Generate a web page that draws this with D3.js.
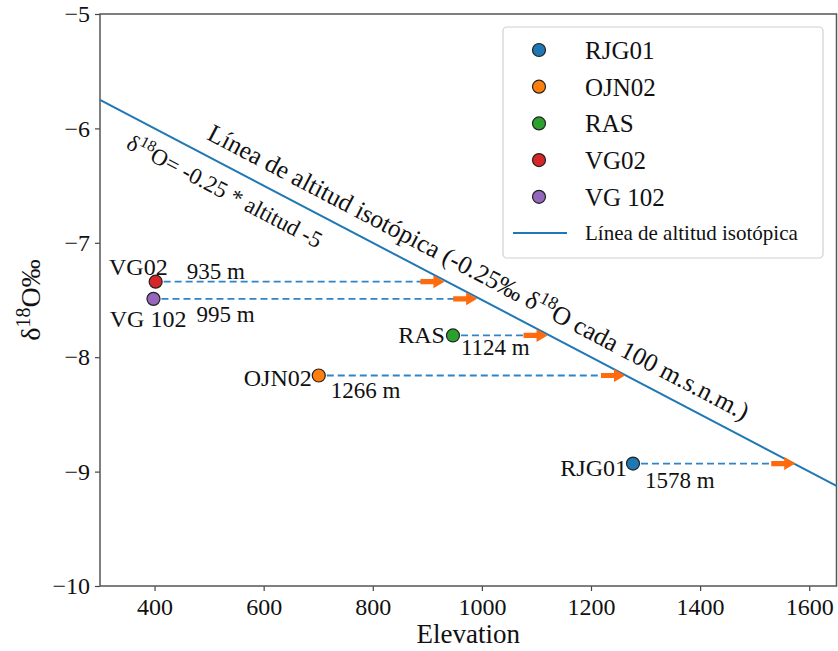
<!DOCTYPE html>
<html>
<head>
<meta charset="utf-8">
<script src="https://cdn.jsdelivr.net/npm/d3@7"></script>
<style>
  body { margin: 0; background: #fff; }
  svg text { font-family: "Liberation Serif", "Times New Roman", serif; fill: #111; }
</style>
</head>
<body>
<svg id="chart" width="838" height="651"></svg>
<script>
// station data
var stations = ["RJG01", "OJN02", "RAS", "VG02", "VG 102"];
var elevation = [1277, 701, 947, 402, 398];
var d18O = [-8.93, -8.16, -7.81, -7.34, -7.49];
var isoAltitude = [1578, 1266, 1124, 935, 995];
var colors = ["#1f77b4", "#ff7f0e", "#2ca02c", "#d62728", "#9467bd"];

// isotopic altitude line: d18O = -0.25 * altitud/100 - 5
var lineAlt = [300, 1650];
var lineSlope = -0.25 / 100;
var lineIntercept = -5;

var xTicks = [400, 600, 800, 1000, 1200, 1400, 1600];
var yTicks = [-10, -9, -8, -7, -6, -5];

var W = 838, H = 651;
var margin = {left: 100, right: 1.5, top: 14, bottom: 65};

var svg = d3.select("#chart");

var x = d3.scaleLinear().domain([300, 1650]).range([margin.left, W - margin.right]);
var y = d3.scaleLinear().domain([-10, -5]).range([H - margin.bottom, margin.top]);

var lineY = function(a){ return lineSlope * a + lineIntercept; };
var minus = function(v){ return String(v).replace("-", "\u2212"); };

// axes
var xAxis = svg.append("g")
  .attr("transform", "translate(0," + (H - margin.bottom) + ")")
  .call(d3.axisBottom(x).tickValues(xTicks).tickSize(5).tickPadding(6).tickFormat(d3.format("d")));
var yAxis = svg.append("g")
  .attr("transform", "translate(" + margin.left + ",0)")
  .call(d3.axisLeft(y).tickValues(yTicks).tickSize(5).tickPadding(5).tickFormat(minus));

[xAxis, yAxis].forEach(function(g){
  g.select(".domain").remove();
  g.selectAll("line").attr("stroke", "#444").attr("stroke-width", 1.2);
  g.selectAll("text").style("font-size", "24px").attr("fill", "#111");
});
xAxis.selectAll("text").attr("dy", "0.74em");

// frame
svg.append("rect")
  .attr("x", margin.left).attr("y", margin.top)
  .attr("width", W - margin.left - margin.right)
  .attr("height", H - margin.top - margin.bottom)
  .attr("fill", "none").attr("stroke", "#555").attr("stroke-width", 1.5);

// axis labels
svg.append("text")
  .attr("x", (margin.left + W - margin.right) / 2).attr("y", 643)
  .attr("text-anchor", "middle").style("font-size", "27px")
  .text("Elevation");

var yl = svg.append("text")
  .attr("transform", "translate(40," + y(-7.5) + ") rotate(-90)")
  .attr("text-anchor", "middle").style("font-size", "28px");
yl.append("tspan").text("\u03b4");
yl.append("tspan").attr("dy", -10).style("font-size", "20px").text("18");
yl.append("tspan").attr("dy", 10).text("O\u2030");

// isotopic altitude line
var plot = svg.append("g");
plot.append("line")
  .attr("x1", x(lineAlt[0])).attr("y1", y(lineY(lineAlt[0])))
  .attr("x2", x(lineAlt[1])).attr("y2", y(lineY(lineAlt[1])))
  .attr("stroke", "#1f77b4").attr("stroke-width", 2);

var angle = Math.atan2(y(lineY(lineAlt[1])) - y(lineY(lineAlt[0])),
                       x(lineAlt[1]) - x(lineAlt[0])) * 180 / Math.PI;

// rotated annotations along the line
var t1 = plot.append("text")
  .attr("transform", "translate(" + x(494) + "," + y(-6.09) + ") rotate(" + angle + ")")
  .style("font-size", "25.5px");
t1.append("tspan").text("L\u00ednea de altitud isot\u00f3pica (-0.25\u2030 \u03b4");
t1.append("tspan").attr("dy", -10).style("font-size", "18px").text("18");
t1.append("tspan").attr("dy", 10).text("O cada 100 m.s.n.m.)");

var t2 = plot.append("text")
  .attr("transform", "translate(" + x(346) + "," + y(-6.17) + ") rotate(" + angle + ")")
  .style("font-size", "23px");
t2.append("tspan").text("\u03b4");
t2.append("tspan").attr("dy", -9).style("font-size", "16px").text("18");
t2.append("tspan").attr("dy", 9).text("O= -0.25 * altitud -5");

// dashed guides and arrows
var arrowLen = 24, shaftW = 2.6, headW = 6.5, headL = 11;
var arrowPath = function(tx, ty){
  return "M" + (tx - arrowLen) + "," + (ty - shaftW) +
    "L" + (tx - headL) + "," + (ty - shaftW) +
    "L" + (tx - headL) + "," + (ty - headW) +
    "L" + tx + "," + ty +
    "L" + (tx - headL) + "," + (ty + headW) +
    "L" + (tx - headL) + "," + (ty + shaftW) +
    "L" + (tx - arrowLen) + "," + (ty + shaftW) + "Z";
};

stations.forEach(function(s, i){
  var px = x(elevation[i]), py = y(d18O[i]), tx = x(isoAltitude[i]) - 2;
  plot.append("line")
    .attr("x1", px + 8).attr("y1", py)
    .attr("x2", tx - arrowLen + 1).attr("y2", py)
    .attr("stroke", "#2f84c8").attr("stroke-width", 1.8)
    .attr("stroke-dasharray", "7,4");
  plot.append("path")
    .attr("d", arrowPath(tx, py))
    .attr("fill", "#ff6a0d");
});

// station labels: [name dx, name dy, anchor, alt dx, alt dy]
var labelPos = [
  [-6, 12, "end", 12, 24],
  [-7, 10, "end", 12, 22],
  [-8, 8, "end", 8, 20],
  [12, -7, "end", 31, -3],
  [33, 28, "end", 43, 23]
];

stations.forEach(function(s, i){
  var px = x(elevation[i]), py = y(d18O[i]), p = labelPos[i];
  plot.append("text")
    .attr("x", px + p[0]).attr("y", py + p[1])
    .attr("text-anchor", p[2]).style("font-size", "24px")
    .text(s);
  plot.append("text")
    .attr("x", px + p[3]).attr("y", py + p[4])
    .style("font-size", "23px")
    .text(isoAltitude[i] + " m");
});

// station markers
plot.selectAll("circle.st")
  .data(stations)
  .enter()
  .append("circle")
  .attr("class", "st")
  .attr("cx", function(d, i){ return x(elevation[i]); })
  .attr("cy", function(d, i){ return y(d18O[i]); })
  .attr("r", 6.5)
  .attr("fill", function(d, i){ return colors[i]; })
  .attr("stroke", "#222").attr("stroke-width", 1.2);

// legend
var lg = svg.append("g");
lg.append("rect")
  .attr("x", 503).attr("y", 27).attr("width", 320).attr("height", 231)
  .attr("rx", 4).attr("fill", "#fff").attr("fill-opacity", 0.85)
  .attr("stroke", "#d0d0d0").attr("stroke-width", 1.2);

stations.forEach(function(s, i){
  var ry = 50 + i * 36.7;
  lg.append("circle")
    .attr("cx", 539).attr("cy", ry).attr("r", 6.5)
    .attr("fill", colors[i]).attr("stroke", "#222").attr("stroke-width", 1.2);
  lg.append("text")
    .attr("x", 585).attr("y", ry + 9)
    .style("font-size", "25px")
    .text(s);
});
lg.append("line")
  .attr("x1", 513).attr("x2", 567).attr("y1", 233).attr("y2", 233)
  .attr("stroke", "#1f77b4").attr("stroke-width", 2);
lg.append("text")
  .attr("x", 585).attr("y", 240)
  .style("font-size", "21px")
  .text("L\u00ednea de altitud isot\u00f3pica");
</script>
</body>
</html>
